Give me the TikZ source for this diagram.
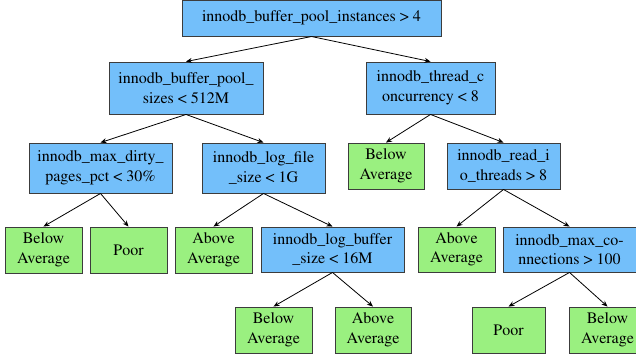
\documentclass[tikz,border=0pt]{standalone}
\usepackage[T1]{fontenc}
\usepackage{mathptmx}
\usetikzlibrary{arrows.meta}
\definecolor{nodeblue}{RGB}{115,191,250}
\definecolor{leafgreen}{RGB}{154,240,128}
\definecolor{edgegray}{RGB}{60,60,60}
\tikzset{
  box/.style={draw=edgegray, line width=0.9pt, inner sep=0pt, align=center,
    font=\fontsize{16}{19.5}\selectfont, anchor=center},
  cond/.style={box, fill=nodeblue},
  leaf/.style={box, fill=leafgreen},
  link/.style={draw=black, line width=0.8pt, -{Stealth[length=6pt,width=5pt]}},
}
\newcommand{\bx}[7]{\node[#1, minimum width=#5pt, minimum height=#6pt] (#2) at (#3,#4) {#7};}
\begin{document}
\begin{tikzpicture}[x=1pt,y=-1pt]
\useasboundingbox (0,0) rectangle (636,360);
\bx{cond}{root}{311.5}{18.3}{259}{35.5}{innodb\_buffer\_pool\_instances > 4}
\bx{cond}{bp}{186}{88}{154}{52}{innodb\_buffer\_pool\_\\sizes < 512M}
\bx{cond}{tc}{430.5}{88}{129}{52}{innodb\_thread\_c\\oncurrency < 8}
\bx{cond}{md}{100.5}{168}{143}{50}{innodb\_max\_dirty\_\\pages\_pct < 30\%}
\bx{cond}{lf}{263.5}{168}{123}{50}{innodb\_log\_file\\\_size < 1G}
\bx{leaf}{ba1}{386}{166}{76}{46}{Below\\Average}
\bx{cond}{rio}{503.5}{166}{113}{46}{innodb\_read\_i\\o\_threads > 8}
\bx{leaf}{ba2}{43.5}{250}{77}{46}{Below\\Average}
\bx{leaf}{p1}{128.5}{250}{77}{46}{Poor}
\bx{leaf}{aa1}{213.5}{250}{77}{46}{Above\\Average}
\bx{cond}{lb}{332.5}{249.5}{143}{45}{innodb\_log\_buffer\\\_size < 16M}
\bx{leaf}{aa2}{456.5}{249.5}{77}{45}{Above\\Average}
\bx{cond}{mc}{569.5}{249.5}{133}{45}{innodb\_max\_co-\\nnections > 100}
\bx{leaf}{ba3}{273.5}{330}{77}{46}{Below\\Average}
\bx{leaf}{aa3}{373}{330}{76}{46}{Above\\Average}
\bx{leaf}{p2}{508.5}{330}{73}{46}{Poor}
\bx{leaf}{ba4}{607.5}{330}{77}{46}{Below\\Average}
\draw[link] (root.south) -- (bp.north);
\draw[link] (root.south) -- (tc.north);
\draw[link] (bp.south) -- (md.north);
\draw[link] (bp.south) -- (lf.north);
\draw[link] (tc.south) -- (ba1.north);
\draw[link] (tc.south) -- (rio.north);
\draw[link] (md.south) -- (ba2.north);
\draw[link] (md.south) -- (p1.north);
\draw[link] (lf.south) -- (aa1.north);
\draw[link] (lf.south) -- (lb.north);
\draw[link] (rio.south) -- (aa2.north);
\draw[link] (rio.south) -- (mc.north);
\draw[link] (lb.south) -- (ba3.north);
\draw[link] (lb.south) -- (aa3.north);
\draw[link] (mc.south) -- (p2.north);
\draw[link] (mc.south) -- (ba4.north);
\end{tikzpicture}
\end{document}
